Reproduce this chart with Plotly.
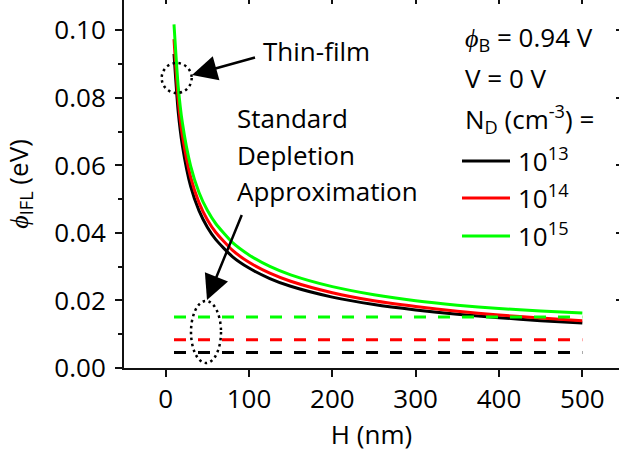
import plotly.graph_objects as go

# ---------------- data ----------------
H_nm = [10, 15, 20, 30, 40, 50, 60, 80, 100, 125, 150, 200, 250, 300, 350, 400, 450, 500]
phi_1e13 = [0.0930, 0.0760, 0.0660, 0.0538, 0.0466, 0.0417, 0.0381, 0.0330, 0.0296, 0.0265,
            0.0242, 0.0210, 0.0188, 0.0172, 0.0159, 0.0149, 0.0140, 0.0133]
phi_1e14 = [0.0974, 0.0795, 0.0690, 0.0565, 0.0490, 0.0439, 0.0402, 0.0349, 0.0313, 0.0281,
            0.0257, 0.0223, 0.0199, 0.0182, 0.0168, 0.0157, 0.0148, 0.0140]
phi_1e15 = [0.1018, 0.0835, 0.0727, 0.0598, 0.0520, 0.0467, 0.0428, 0.0372, 0.0335, 0.0301,
            0.0276, 0.0241, 0.0217, 0.0199, 0.0186, 0.0176, 0.0169, 0.0163]
H_sda = [10, 500]
sda_1e13 = [0.0046, 0.0046]
sda_1e14 = [0.0084, 0.0084]
sda_1e15 = [0.0151, 0.0151]
series_labels = ["10<sup>13</sup>", "10<sup>14</sup>", "10<sup>15</sup>"]
colors = ["#000000", "#ff0000", "#00ff00"]

# ---------------- layout geometry ----------------
W, HGT = 619, 452
L, B = 124, 84
XMIN, XMAX = -50, 544
YMIN, YMAX = 0.0, 0.109
plotW, plotH = W - L, HGT - B


def dx(px):
    return XMIN + (px - L) / plotW * (XMAX - XMIN)


def dy(py):
    return YMIN + (plotH - py) / plotH * (YMAX - YMIN)


FONT = "Open Sans"
fig = go.Figure()

for ys, c in zip([phi_1e13, phi_1e14, phi_1e15], colors):
    fig.add_trace(go.Scatter(x=H_nm, y=ys, mode="lines", line=dict(color=c, width=3, shape="spline", smoothing=0.6),
                             showlegend=False, hoverinfo="skip"))
for ys, c in zip([sda_1e13, sda_1e14, sda_1e15], colors):
    fig.add_trace(go.Scatter(x=H_sda, y=ys, mode="lines", line=dict(color=c, width=3, dash="12px,12px"),
                             showlegend=False, hoverinfo="skip"))

# invisible trace for mirrored axes
fig.add_trace(go.Scatter(x=[XMIN], y=[YMIN], xaxis="x2", yaxis="y2", mode="markers",
                         marker=dict(opacity=0), showlegend=False, hoverinfo="skip"))

shapes = []
# dotted ellipses
shapes.append(dict(type="circle", xref="x", yref="y", x0=dx(161.7), x1=dx(191.7), y0=dy(93), y1=dy(63),
                   line=dict(color="black", width=2.5, dash="2.5px,3.5px")))
shapes.append(dict(type="circle", xref="x", yref="y", x0=dx(191), x1=dx(221), y0=dy(363), y1=dy(301),
                   line=dict(color="black", width=2.5, dash="2.5px,3.5px")))
# legend lines
leg_y = [161, 198, 236]
for py, c in zip(leg_y, colors):
    shapes.append(dict(type="line", xref="x", yref="y", x0=dx(462), x1=dx(510), y0=dy(py), y1=dy(py),
                       line=dict(color=c, width=3)))

ann = []
tf = dict(family=FONT, size=26, color="black")
ann.append(dict(x=dx(261), y=dy(51), xref="x", yref="y", text="Thin-film", showarrow=False,
                xanchor="left", yanchor="middle", font=tf))
for txt, py in zip(["Standard", "Depletion", "Approximation"], [118, 155, 191]):
    ann.append(dict(x=dx(235), y=dy(py), xref="x", yref="y", text=txt, showarrow=False,
                    xanchor="left", yanchor="middle", font=tf))
# arrows
ann.append(dict(x=dx(192), y=dy(75), xref="x", yref="y", text=" ", showarrow=True, ax=65, ay=-18,
                arrowhead=2, arrowsize=2.0, arrowwidth=2.5, arrowcolor="black", standoff=0,
                font=dict(size=2)))
ann.append(dict(x=dx(207), y=dy(300), xref="x", yref="y", text=" ", showarrow=True, ax=36, ay=-88,
                arrowhead=2, arrowsize=2.0, arrowwidth=2.5, arrowcolor="black", standoff=0,
                font=dict(size=2)))
# text block on right
ann.append(dict(x=dx(463), y=dy(38), xref="x", yref="y", text="<i>ϕ</i><sub>B</sub> = 0.94 V", showarrow=False,
                xanchor="left", yanchor="middle", font=tf))
ann.append(dict(x=dx(463), y=dy(78), xref="x", yref="y", text="V = 0 V", showarrow=False,
                xanchor="left", yanchor="middle", font=tf))
ann.append(dict(x=dx(463), y=dy(119), xref="x", yref="y", text="N<sub>D</sub> (cm<sup>-3</sup>) =", showarrow=False,
                xanchor="left", yanchor="middle", font=tf))
for lab, py in zip(series_labels, leg_y):
    ann.append(dict(x=dx(516), y=dy(py - 1), xref="x", yref="y", text=lab, showarrow=False,
                    xanchor="left", yanchor="middle", font=tf))

axis_common = dict(showgrid=False, zeroline=False, color="#111111", linecolor="#111111", linewidth=2,
                   tickfont=dict(family=FONT, size=26, color="black"), tickcolor="#111111", tickwidth=2)

fig.update_layout(
    width=W, height=HGT, margin=dict(l=L, r=0, t=0, b=B, pad=0),
    paper_bgcolor="white", plot_bgcolor="white",
    shapes=shapes, annotations=ann,
    xaxis=dict(range=[XMIN, XMAX], tickvals=[0, 100, 200, 300, 400, 500], ticks="outside", ticklen=7,
               showline=True,
               title=dict(text="H (nm)", font=dict(family=FONT, size=26, color="black"), standoff=0),
               **axis_common),
    yaxis=dict(range=[YMIN, YMAX], dtick=0.02, tick0=0, tickformat=".2f", ticks="outside", ticklen=7,
               showline=True, ticklabelstandoff=4,
               minor=dict(dtick=0.01, ticks="outside", ticklen=4, tickcolor="#111111", tickwidth=2),
               title=dict(text="<i>ϕ</i><sub>IFL</sub> (eV)", font=dict(family=FONT, size=26, color="black"),
                          standoff=20),
               **axis_common),
    xaxis2=dict(range=[XMIN, XMAX], overlaying="x", side="top", tickvals=[0, 100, 200, 300, 400, 500],
                ticks="inside", ticklen=4, showticklabels=False, showline=False, showgrid=False,
                zeroline=False, tickcolor="#111111", tickwidth=2),
    yaxis2=dict(range=[YMIN, YMAX], overlaying="y", side="right", dtick=0.02, tick0=0,
                ticks="inside", ticklen=3, showticklabels=False, showline=False, showgrid=False,
                zeroline=False, tickcolor="#111111", tickwidth=2),
)

fig.write_html("out.html")
